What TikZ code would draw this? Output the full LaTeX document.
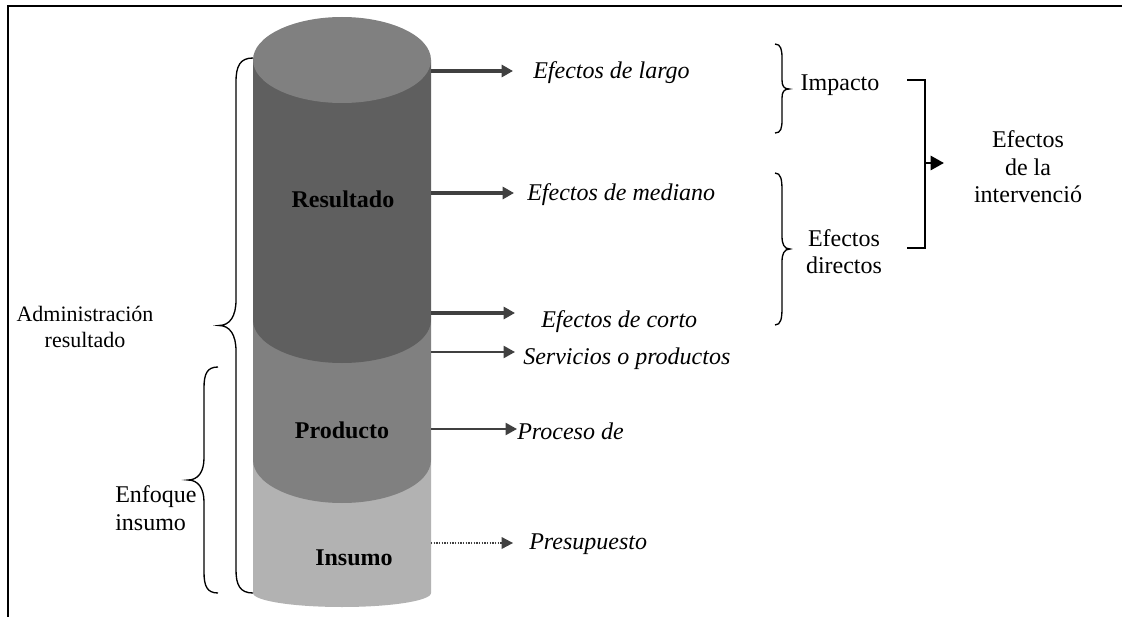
\documentclass[tikz,border=0pt]{standalone}
\usepackage{fontspec}
\setmainfont{Liberation Serif}
\usetikzlibrary{arrows.meta}
\definecolor{darkbody}{HTML}{5F5F5F}
\definecolor{midbody}{HTML}{808080}
\definecolor{lightbody}{HTML}{B2B2B2}
\definecolor{arrowgray}{HTML}{404040}
\begin{document}
\begin{tikzpicture}[x=0.75pt,y=-0.75pt,
  txt/.style={font=\fontsize{18}{20.5}\selectfont, inner sep=0pt, align=center},
  itxt/.style={font=\fontsize{18}{20.5}\selectfont\itshape, inner sep=0pt, anchor=west},
  btxt/.style={font=\fontsize{18}{20.5}\selectfont\bfseries, inner sep=0pt},
  thickarr/.style={draw=arrowgray, line width=2.8pt, -{Triangle[length=8.5pt,width=9pt]}},
  thinarr/.style={draw=arrowgray, line width=1.5pt, -{Triangle[length=8.5pt,width=9pt]}},
  dotarr/.style={draw=arrowgray, line width=1pt, densely dotted, -{Triangle[length=8.5pt,width=9pt,fill=arrowgray,line width=0pt]}},
  bracepath/.style={draw=black, line width=1pt},
  bracket/.style={draw=black, line width=2pt}]
\useasboundingbox (0,0) rectangle (1122,617);
% frame (cropped)
\draw[line width=1.5pt] (8,617) -- (8,6) -- (1122,6);

% cylinder
\fill[lightbody] (253,460) -- (253,593) arc[start angle=180,end angle=360,x radius=89,y radius=-14] -- (431,460) -- cycle;
\fill[midbody] (253,320) -- (253,460) arc[start angle=180,end angle=360,x radius=89,y radius=-43] -- (431,320) -- cycle;
\fill[darkbody] (253,60) -- (253,320) arc[start angle=180,end angle=360,x radius=89,y radius=-43] -- (431,60) -- cycle;
\fill[midbody] (342,60) ellipse[x radius=89,y radius=43];

\node[btxt] (res) at (343,199) {Resultado};
\node[btxt] (prod) at (342,430) {Producto};
\node[btxt] (ins) at (354,558) {Insumo};

% arrow sources and ends
\coordinate (s1) at (431,71);  \coordinate (e1) at (513,71);
\coordinate (s2) at (431,193); \coordinate (e2) at (514,193);
\coordinate (s3) at (431,313); \coordinate (e3) at (515,313);
\coordinate (s4) at (431,352); \coordinate (e4) at (515,352);
\coordinate (s5) at (431,429); \coordinate (e5) at (517,429);
\coordinate (s6) at (431,543); \coordinate (e6) at (513,543);

\draw[thickarr] (s1) -- (e1);
\draw[thickarr] (s2) -- (e2);
\draw[thickarr] (s3) -- (e3);
\draw[thinarr] (s4) -- (e4);
\draw[thinarr] (s5) -- (e5);
\draw[dotarr] (s6) -- (e6);

\node[itxt] (t1) at (533,73) {Efectos de largo};
\node[itxt] (t2) at (527,195) {Efectos de mediano};
\node[itxt] (t3) at (541,322) {Efectos de corto};
\node[itxt] (t4) at (523,359) {Servicios o productos};
\node[itxt] (t5) at (517,431) {Proceso de};
\node[itxt] (t6) at (529,544) {Presupuesto};

% right braces
\draw[bracepath] (775,44) .. controls (781,44) and (782,50) .. (782,58)
  -- (782,80) .. controls (782,86) and (784,89) .. (789,89)
  .. controls (784,89) and (782,92) .. (782,98)
  -- (782,120) .. controls (782,128) and (781,133) .. (775,133);
\draw[bracepath] (775,173) .. controls (781,173) and (782,180) .. (782,190)
  -- (782,236) .. controls (782,244) and (784,249) .. (790,249)
  .. controls (784,249) and (782,254) .. (782,262)
  -- (782,308) .. controls (782,318) and (781,325) .. (775,325);

\node[txt] (imp) at (840,85) {Impacto};
\node[txt] (dir) at (844,252) {Efectos\\directos};

% bracket
\coordinate (b1) at (907,80);
\coordinate (b2) at (925,80);
\coordinate (b3) at (925,248);
\coordinate (b4) at (907,248);
\coordinate (bm) at (925,163);
\coordinate (bt) at (944,163);
\draw[bracket] (b1) -- (b2) -- (b3) -- (b4);
\draw[bracket, -{Triangle[length=10pt,width=10.5pt]}] (bm) -- (bt);
\node[txt] (efi) at (1028,167) {Efectos\\de la\\intervenció};

% left braces
\draw[bracepath] (253,58) .. controls (240,58) and (236,66) .. (236,82)
  -- (236,300) .. controls (236,316) and (230,325.5) .. (219,325.5)
  .. controls (230,325.5) and (236,335) .. (236,351)
  -- (236,570) .. controls (236,585) and (240,593) .. (253,593);
\draw[bracepath] (218,367) .. controls (207,367) and (204,374) .. (204,388)
  -- (204,458) .. controls (204,472) and (198,480) .. (188,480)
  .. controls (198,480) and (204,488) .. (204,502)
  -- (204,572) .. controls (204,586) and (207,593) .. (218,593);

\node[txt, font=\fontsize{16.5}{20}\selectfont] (adm) at (85,327) {Administración\\resultado};
\node[txt, align=left, anchor=west] (enf) at (115,508) {Enfoque\\insumo};
\end{tikzpicture}
\end{document}
